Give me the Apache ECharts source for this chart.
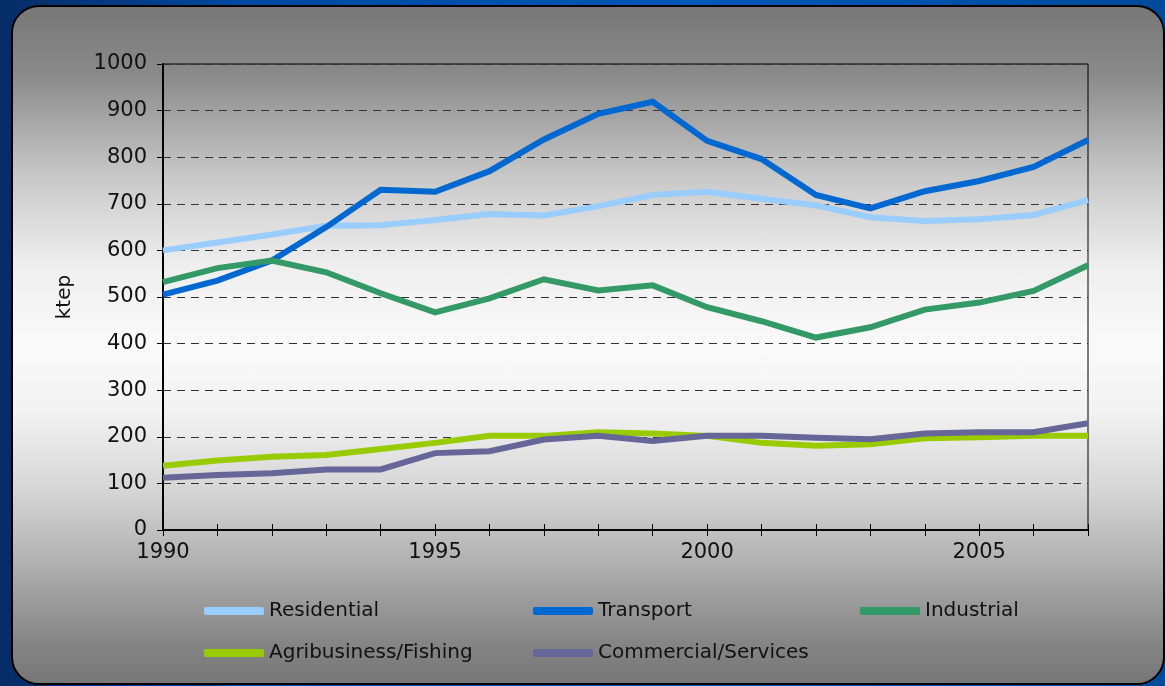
<!DOCTYPE html>
<html>
<head>
<meta charset="utf-8">
<script src="https://cdn.jsdelivr.net/npm/echarts@6/dist/echarts.min.js"></script>
<style>
  html, body { margin: 0; padding: 0; }
  body {
    width: 1165px; height: 686px; overflow: hidden; position: relative;
    background: linear-gradient(90deg, #062c66 0%, #0048a0 20%, #0058b8 60%, #004a9c 100%);
  }
  .card {
    position: absolute; left: 11px; top: 5px; width: 1150px; height: 676px;
    border: 2px solid #000; border-radius: 28px;
    background: linear-gradient(180deg, #777 0%, #8a8a8a 10%, #c8c8c8 25%, #eee 38%, #fafafa 50%, #f2f2f2 60%, #d4d4d4 72%, #aaa 84%, #858585 94%, #777 100%);
  }
  #chart { position: absolute; left: 0; top: 0; width: 1165px; height: 686px; }
</style>
</head>
<body>
<div class="card"></div>
<div id="chart"></div>
<script>
// years on the x axis
var years = ['1990','1991','1992','1993','1994','1995','1996','1997','1998','1999',
             '2000','2001','2002','2003','2004','2005','2006','2007'];

// ktep per sector
var residential = [600, 617, 634, 653, 654, 665, 678, 675, 695, 719, 726, 711, 697, 671, 663, 667, 676, 708];
var transport   = [505, 535, 578, 650, 730, 726, 770, 838, 893, 919, 835, 796, 719, 690, 727, 749, 779, 837];
var industrial  = [532, 562, 578, 553, 508, 467, 497, 538, 514, 525, 478, 448, 413, 435, 473, 488, 513, 568];
var agri        = [138, 149, 157, 161, 174, 187, 202, 202, 210, 207, 202, 187, 181, 184, 197, 199, 202, 202];
var commercial  = [112, 118, 122, 130, 130, 165, 169, 194, 202, 191, 202, 202, 198, 195, 207, 210, 210, 229];

var names  = ['Residential', 'Transport', 'Industrial', 'Agribusiness/Fishing', 'Commercial/Services'];
var colors = ['#99ccff', '#0068d0', '#339966', '#99cc00', '#666699'];
var values = [residential, transport, industrial, agri, commercial];

var myChart = echarts.init(document.getElementById('chart'), null, { renderer: 'canvas' });

var font = 'DejaVu Sans';

// one legend per item so the columns line up like the original
var legendPos = [[199, 596], [528, 596], [855, 596], [199, 638], [528, 638]];
var legends = names.map(function (n, i) {
  return {
    data: [n],
    left: legendPos[i][0],
    top: legendPos[i][1],
    icon: 'roundRect',
    itemWidth: 60,
    itemHeight: 8,
    itemGap: 4,
    textStyle: { fontFamily: font, fontSize: 20, color: '#111' }
  };
});

var xCommon = {
  type: 'category',
  data: years,
  boundaryGap: false,
  axisLine: { lineStyle: { color: '#000', width: 1.5 } },
  splitLine: { show: false }
};

var option = {
  animation: false,
  backgroundColor: 'transparent',
  color: colors,
  legend: legends,
  grid: {
    left: 163, right: 77, top: 64, bottom: 156,
    show: true, borderColor: '#000', borderWidth: 1, backgroundColor: 'transparent'
  },
  xAxis: [
    Object.assign({}, xCommon, {
      axisTick: { show: true, length: 6, lineStyle: { color: '#000' }, interval: 0 },
      axisLabel: { interval: 4, fontFamily: font, fontSize: 21, color: '#111', margin: 12 }
    }),
    Object.assign({}, xCommon, {
      position: 'bottom',
      axisTick: { show: true, inside: true, length: 6, lineStyle: { color: '#000' }, interval: 0 },
      axisLabel: { show: false }
    })
  ],
  yAxis: {
    type: 'value',
    min: 0, max: 1000, interval: 100,
    name: 'ktep',
    nameLocation: 'middle',
    nameGap: 88,
    nameTextStyle: { fontFamily: font, fontSize: 20, color: '#111' },
    axisLine: { show: true, lineStyle: { color: '#000', width: 2 } },
    axisTick: { show: true, length: 6, lineStyle: { color: '#000' } },
    axisLabel: {
      fontFamily: font, fontSize: 21, color: '#111', margin: 16,
      formatter: function (v) { return String(v); }
    },
    splitLine: { lineStyle: { color: '#333', type: [8, 6], width: 1 } }
  },
  series: names.map(function (n, i) {
    return {
      name: n,
      type: 'line',
      data: values[i],
      symbol: 'none',
      smooth: false,
      lineStyle: { width: 6, color: colors[i], cap: 'butt', join: 'miter' },
      itemStyle: { color: colors[i] }
    };
  })
};

myChart.setOption(option);
</script>
</body>
</html>
